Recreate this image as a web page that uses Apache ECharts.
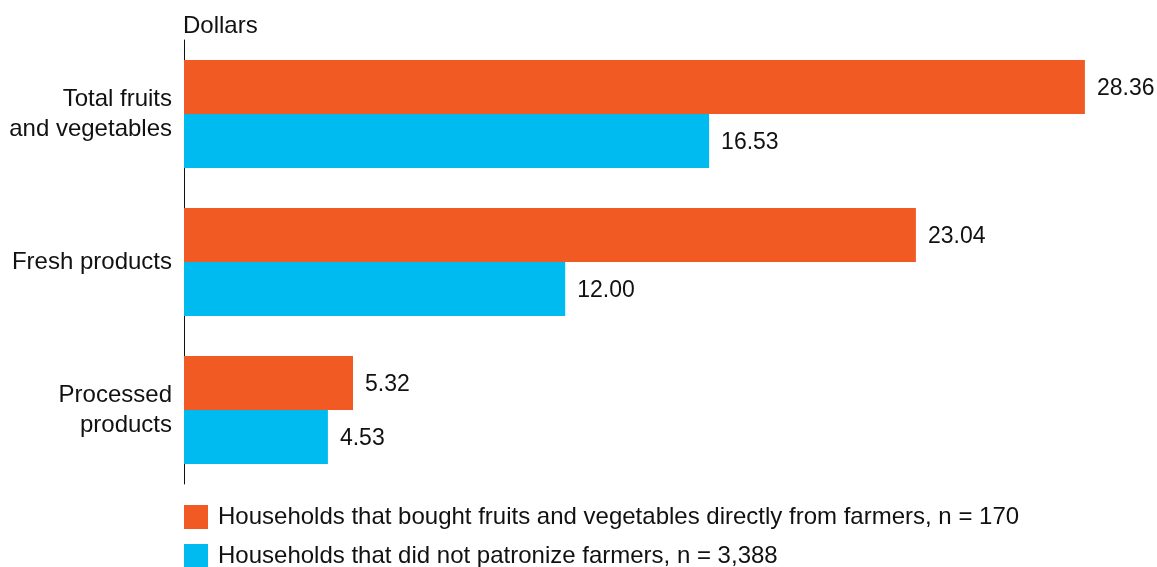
<!DOCTYPE html>
<html><head><meta charset="utf-8">
<script src="https://cdn.jsdelivr.net/npm/echarts@6/dist/echarts.min.js"></script>
<style>html,body{margin:0;padding:0;background:#fff}#c{width:1157px;height:567px}</style>
</head><body><div id="c"></div>
<script>
const categories = ["Total fruits\nand vegetables", "Fresh products", "Processed\nproducts"];
const seriesNames = ["Households that bought fruits and vegetables directly from farmers, n = 170", "Households that did not patronize farmers, n = 3,388"];
const farmers = [28.36, 23.04, 5.32];
const nonPatrons = [16.53, 12.00, 4.53];
const colors = ["#F15A22", "#00BBF0"];
const font = "'Liberation Sans', Arial, sans-serif";
const txt = '#111111';
const chart = echarts.init(document.getElementById('c'), null, {renderer: 'canvas'});
const lbl = {show: true, position: 'right', distance: 12, offset: [0, 2], color: txt, fontSize: 23, fontFamily: font, formatter: p => p.value.toFixed(2)};
const legendBase = {orient: 'vertical', left: 184, padding: 0, itemWidth: 24, itemHeight: 24, icon: 'rect',
    textStyle: {fontSize: 24, fontFamily: font, color: txt, padding: [0, 0, 0, 5]}};
chart.setOption({
  animation: false,
  textStyle: {fontFamily: font},
  graphic: [{type: 'text', left: 183, top: 14, style: {text: 'Dollars', fontSize: 24, fontFamily: font, fill: txt}}],
  grid: {left: 184, top: 40, width: 953, height: 444, containLabel: false},
  xAxis: {type: 'value', min: 0, max: 30, show: false},
  yAxis: {type: 'category', data: categories, inverse: true,
    axisLine: {show: true, lineStyle: {color: txt, width: 1}},
    axisTick: {show: false},
    axisLabel: {color: txt, fontSize: 24, fontFamily: font, lineHeight: 30, margin: 12, align: 'right'}},
  legend: [
    Object.assign({top: 505, data: [seriesNames[0]]}, legendBase),
    Object.assign({top: 544, data: [seriesNames[1]]}, legendBase)
  ],
  series: [
    {name: seriesNames[0], type: 'bar', data: farmers, barWidth: 54, barGap: '0%', itemStyle: {color: colors[0]}, label: lbl},
    {name: seriesNames[1], type: 'bar', data: nonPatrons, barWidth: 54, barGap: '0%', itemStyle: {color: colors[1]}, label: lbl}
  ]
});
</script></body></html>
